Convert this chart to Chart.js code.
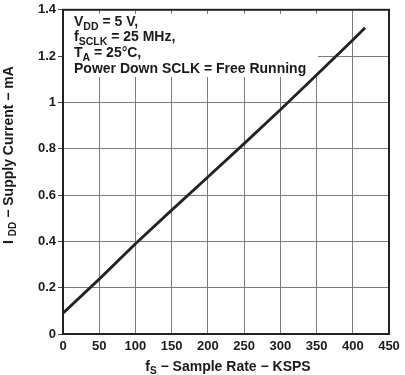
<!DOCTYPE html>
<html>
<head>
<meta charset="utf-8">
<script src="https://cdn.jsdelivr.net/npm/chart.js@4/dist/chart.umd.min.js"></script>
<style>
html,body{margin:0;padding:0;background:#fff;}
#wrap{width:405px;height:375px;position:relative;}
</style>
</head>
<body>
<div id="wrap"><canvas id="c" width="405" height="375"></canvas></div>
<script>
// Data
const sampleRate = [0, 50, 100, 150, 200, 250, 300, 350, 400, 417];                     // KSPS
const supplyCurrent = [0.09, 0.237, 0.39, 0.535, 0.678, 0.822, 0.968, 1.118, 1.27, 1.322]; // mA
const xTickValues = [0, 50, 100, 150, 200, 250, 300, 350, 400, 450];
const xTickLabels = ['0', '50', '100', '150', '200', '250', '300', '350', '400', '450'];
const yTickValues = [0, 0.2, 0.4, 0.6, 0.8, 1, 1.2, 1.4];
const yTickLabels = ['0', '0.2', '0.4', '0.6', '0.8', '1', '1.2', '1.4'];
const annotationLines = [
  [{t:'V'},{t:'DD',sub:true},{t:' = 5 V,'}],
  [{t:'f'},{t:'SCLK',sub:true},{t:' = 25 MHz,'}],
  [{t:'T'},{t:'A',sub:true},{t:' = 25°C,'}],
  [{t:'Power Down SCLK = Free Running'}]
];
const xTitle = [{t:'f'},{t:'S',sub:true},{t:' \u2212 Sample Rate \u2212 KSPS'}];
const yTitle = [{t:'I '},{t:'DD',sub:true},{t:' \u2212 Supply Current \u2212 mA'}];

const FONT = '"Liberation Sans", Arial, sans-serif';
const TXT = '#1a1a1a';

function richWidth(ctx, parts, size, subSize){
  let w = 0;
  for (const p of parts){
    ctx.font = 'bold ' + (p.sub ? subSize : size) + 'px ' + FONT;
    w += ctx.measureText(p.t).width;
  }
  return w;
}
function drawRich(ctx, parts, x, y, size, subSize, subShift){
  let cx = x;
  ctx.textBaseline = 'alphabetic';
  ctx.textAlign = 'left';
  for (const p of parts){
    ctx.font = 'bold ' + (p.sub ? subSize : size) + 'px ' + FONT;
    ctx.fillText(p.t, cx, y + (p.sub ? subShift : 0));
    cx += ctx.measureText(p.t).width;
  }
}

const decor = {
  id: 'decor',
  beforeDatasetsDraw(chart){
    const ctx = chart.ctx;
    const a = chart.chartArea;
    ctx.save();
    ctx.fillStyle = '#ffffff';
    ctx.fillRect(a.left + 1, 14, 318 - a.left - 1, 63);
    ctx.fillStyle = TXT;
    const baselines = [25.5, 41, 57, 73];
    annotationLines.forEach((ln, i) => drawRich(ctx, ln, 74, baselines[i], 14, 10.5, 4));
    ctx.restore();
  },
  afterDraw(chart){
    const ctx = chart.ctx;
    const a = chart.chartArea;
    ctx.save();
    ctx.strokeStyle = '#222';
    ctx.lineWidth = 2;
    ctx.strokeRect(a.left, a.top, a.right - a.left, a.bottom - a.top);
    ctx.fillStyle = TXT;
    const wx = richWidth(ctx, xTitle, 14, 10);
    drawRich(ctx, xTitle, (a.left + a.right) / 2 - wx / 2 + 2, 371, 14, 10, 3);
    const wy = richWidth(ctx, yTitle, 14, 10);
    ctx.translate(13, 155);
    ctx.rotate(-Math.PI / 2);
    drawRich(ctx, yTitle, -wy / 2, 0, 14, 10, 3);
    ctx.restore();
  }
};

new Chart(document.getElementById('c'), {
  type: 'line',
  data: {
    datasets: [{
      data: sampleRate.map((x, i) => ({x: x, y: supplyCurrent[i]})),
      borderColor: '#222',
      borderWidth: 2.8,
      pointRadius: 0,
      tension: 0,
      fill: false
    }]
  },
  options: {
    responsive: false,
    animation: false,
    devicePixelRatio: 1,
    layout: {padding: {left: 0, top: 6, right: 16, bottom: 0}},
    plugins: {legend: {display: false}, tooltip: {enabled: false}},
    scales: {
      x: {
        type: 'linear',
        min: 0, max: 450,
        afterBuildTicks: s => { s.ticks = xTickValues.map(v => ({value: v})); },
        afterFit: s => { s.height = 41; },
        ticks: {
          callback: (v) => xTickLabels[xTickValues.indexOf(v)],
          color: TXT,
          font: {family: FONT, size: 13, weight: 'bold'},
          padding: 5,
          maxRotation: 0,
          autoSkip: false
        },
        grid: {color: '#7a7a7a', lineWidth: 1, drawTicks: false},
        border: {color: '#222', width: 2}
      },
      y: {
        type: 'linear',
        min: 0, max: 1.4,
        afterBuildTicks: s => { s.ticks = yTickValues.map(v => ({value: v})); },
        afterFit: s => { s.width = 63; },
        ticks: {
          callback: (v) => yTickLabels[yTickValues.indexOf(v)],
          color: TXT,
          font: {family: FONT, size: 13, weight: 'bold'},
          padding: 2,
          autoSkip: false
        },
        grid: {color: '#7a7a7a', lineWidth: 1, tickLength: 5, tickColor: '#444'},
        border: {color: '#222', width: 2}
      }
    }
  },
  plugins: [decor]
});
</script>
</body>
</html>
